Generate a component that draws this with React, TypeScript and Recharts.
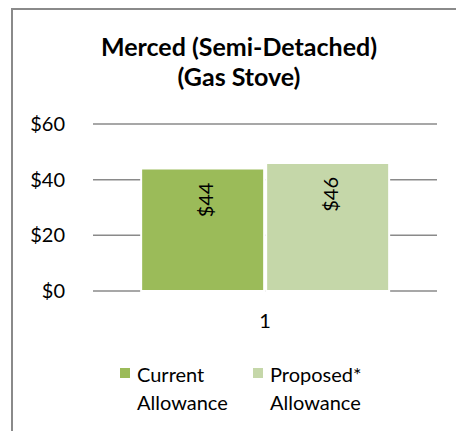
import React from "react";
import { BarChart, Bar, XAxis, YAxis, CartesianGrid, Legend, LabelList } from "recharts";

const categories = ["1"];
const currentValues = [44];
const proposedValues = [46];
const yTicks = [0, 20, 40, 60];
const seriesNames = ["Current Allowance", "Proposed* Allowance"];
const seriesColors = ["#9BBB59", "#C5D7A9"];
const titleLines = ["Merced (Semi-Detached)", "(Gas Stove)"];

const data = categories.map((c, i) => ({
  name: c,
  current: currentValues[i],
  proposed: proposedValues[i],
}));

const FONT = "Lato, 'Open Sans', sans-serif";

const VLabel = (props: any) => {
  const { x, y, width, value } = props;
  const cx = x + width / 2 + 2;
  const cy = y + 14;
  return (
    <text
      x={cx}
      y={cy}
      transform={`rotate(-90 ${cx} ${cy})`}
      textAnchor="end"
      dominantBaseline="central"
      fontFamily={FONT}
      fontSize={20}
      fill="#000"
    >
      {`$${value}`}
    </text>
  );
};

const LegendContent = () => {
  const lefts = [120, 253];
  return (
    <div style={{ position: "relative", width: 456, height: 60, fontFamily: FONT, fontSize: 20, color: "#000" }}>
      {seriesNames.map((n, i) => {
        const parts = n.split(" ");
        return (
          <div key={n} style={{ position: "absolute", left: lefts[i], top: 0 }}>
            <div style={{ position: "absolute", left: 0, top: 8, width: 10, height: 10, background: seriesColors[i] }} />
            <div style={{ position: "absolute", left: 17, top: 0, lineHeight: "28px", whiteSpace: "nowrap" }}>
              <div>{parts[0]}</div>
              <div>{parts[1]}</div>
            </div>
          </div>
        );
      })}
    </div>
  );
};

export default function App() {
  return (
    <div style={{ position: "absolute", left: 0, top: 0, width: 456, height: 431, background: "#fff", overflow: "hidden" }}>
      <div
        style={{
          position: "absolute",
          left: 11,
          top: 8,
          width: 600,
          height: 600,
          borderLeft: "2px solid #8a8a8a",
          borderTop: "2px solid #8a8a8a",
        }}
      />
      <div
        style={{
          position: "absolute",
          left: 0,
          top: 31,
          width: 478,
          textAlign: "center",
          fontFamily: FONT,
          fontWeight: 700,
          fontSize: 25,
          lineHeight: "30px",
          color: "#000",
        }}
      >
        {titleLines.map((t) => (
          <div key={t}>{t}</div>
        ))}
      </div>
      <div style={{ position: "absolute", left: 0, top: 0 }}>
        <BarChart
          width={456}
          height={431}
          data={data}
          margin={{ top: 124, right: 19, bottom: 100, left: 0 }}
          barCategoryGap="14%"
          barGap={2}
        >
          <CartesianGrid vertical={false} stroke="#8a8a8a" strokeWidth={1.5} />
          <XAxis
            dataKey="name"
            height={40}
            axisLine={false}
            tickLine={false}
            tickSize={0}
            tickMargin={23}
            tick={{ fontFamily: FONT, fontSize: 20, fill: "#000" }}
          />
          <YAxis
            width={93}
            domain={[0, 60]}
            ticks={yTicks}
            axisLine={false}
            tickLine={false}
            tickSize={0}
            tickMargin={28}
            tickFormatter={(v: number) => `$${v}`}
            tick={{ fontFamily: FONT, fontSize: 20, fill: "#000" }}
          />
          <Legend
            layout="horizontal"
            verticalAlign="middle"
            align="center"
            wrapperStyle={{ top: 360, left: 0, width: 456 }}
            content={<LegendContent />}
          />
          <Bar dataKey="current" name={seriesNames[0]} fill={seriesColors[0]} stroke="#fff" strokeWidth={2} isAnimationActive={false}>
            <LabelList dataKey="current" content={<VLabel />} />
          </Bar>
          <Bar dataKey="proposed" name={seriesNames[1]} fill={seriesColors[1]} stroke="#fff" strokeWidth={2} isAnimationActive={false}>
            <LabelList dataKey="proposed" content={<VLabel />} />
          </Bar>
        </BarChart>
      </div>
    </div>
  );
}
